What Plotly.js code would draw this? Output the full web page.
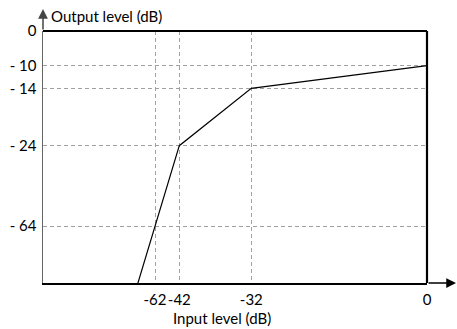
<!DOCTYPE html>
<html>
<head>
<meta charset="utf-8">
<script src="https://cdn.plot.ly/plotly-3.0.1.min.js"></script>
<style>html,body{margin:0;padding:0;background:#fff}#chart{width:457px;height:329px}</style>
</head>
<body>
<div id="chart"></div>
<script>
// ---- data (dB) ----
const inputLevel  = [-80, -62, -42, -32, 0];     // first point continues the 1:2 slope below the axis
const outputLevel = [-100, -64, -24, -14, -10];
const xTicks    = [-62, -42, -32, 0];
const xTickText = ['-62', '-42', '-32', '0'];
const yTicks    = [0, -10, -14, -24, -64];
const yTickText = ['0', '- 10', '- 14', '- 24', '- 64'];

// ---- schematic (non-linear) scale of the drawing ----
function piecewise(anchorsIn, anchorsOut, lowSlope) {
  return function (v) {
    if (v <= anchorsIn[0]) return anchorsOut[0] + (v - anchorsIn[0]) * lowSlope;
    for (let i = 1; i < anchorsIn.length; i++) {
      if (v <= anchorsIn[i]) {
        const t = (v - anchorsIn[i - 1]) / (anchorsIn[i] - anchorsIn[i - 1]);
        return anchorsOut[i - 1] + t * (anchorsOut[i] - anchorsOut[i - 1]);
      }
    }
    const n = anchorsIn.length - 1;
    return anchorsOut[n];
  };
}
const xScale = piecewise([-62, -42, -32, 0], [112, 136.3, 208.3, 384], 1.2);
const yScale = piecewise([-64, -24, -14, -10, 0], [57, 137.3, 194.7, 217.3, 252], 2.0);

const FONT = 'Lato, "Open Sans", sans-serif';

const trace = {
  x: inputLevel.map(xScale),
  y: outputLevel.map(yScale),
  mode: 'lines',
  line: {color: '#000', width: 1.2},
  hoverinfo: 'skip',
  showlegend: false
};

const layout = {
  width: 457, height: 329,
  margin: {l: 43, r: 30, t: 31, b: 46},
  paper_bgcolor: '#fff', plot_bgcolor: '#fff',
  font: {family: FONT, size: 15, color: '#000'},
  xaxis: {
    range: [0, 384], fixedrange: true,
    tickvals: xTicks.map(xScale), ticktext: xTickText, tickangle: 0,
    showgrid: true, gridcolor: '#a0a0a0', gridwidth: 1, griddash: '4px,3px',
    showline: true, linecolor: '#000', linewidth: 1.5,
    zeroline: false, ticks: '', ticklabelstandoff: 2,
    tickfont: {family: FONT, size: 15, color: '#000'}
  },
  yaxis: {
    range: [0, 252], fixedrange: true,
    tickvals: yTicks.map(yScale), ticktext: yTickText,
    showgrid: true, gridcolor: '#a0a0a0', gridwidth: 1, griddash: '4px,3px',
    showline: true, linecolor: '#666', linewidth: 1.5,
    zeroline: false, ticks: '', ticklabelstandoff: 2,
    tickfont: {family: FONT, size: 15, color: '#000'}
  },
  shapes: [
    {type: 'line', xref: 'paper', yref: 'paper', x0: 0, x1: 1, y0: 1, y1: 1,
     line: {color: '#000', width: 2.2}},
    {type: 'line', xref: 'paper', yref: 'paper', x0: 1, x1: 1, y0: 0, y1: 1,
     line: {color: '#000', width: 2.2}}
  ],
  annotations: [
    {xref: 'paper', yref: 'paper', x: 413 / 384, y: 0, ax: -29, ay: 0,
     text: '', showarrow: true, arrowhead: 2, arrowsize: 1.3, arrowwidth: 1.5, arrowcolor: '#000'},
    {xref: 'paper', yref: 'paper', x: 0, y: 1 + 22 / 252, ax: 0, ay: 22,
     text: '', showarrow: true, arrowhead: 2, arrowsize: 1.3, arrowwidth: 1.5, arrowcolor: '#444'},
    {xref: 'paper', yref: 'paper', x: 6 / 384, y: 1 + 15 / 252, xanchor: 'left', yanchor: 'middle',
     text: 'Output level (dB)', showarrow: false, font: {family: FONT, size: 15, color: '#000'}},
    {xref: 'paper', yref: 'paper', x: 179 / 384, y: -35 / 252, xanchor: 'center', yanchor: 'middle',
     text: 'Input level (dB)', showarrow: false, font: {family: FONT, size: 15, color: '#000'}}
  ]
};

Plotly.newPlot('chart', [trace], layout, {staticPlot: true, displayModeBar: false});
</script>
</body>
</html>
